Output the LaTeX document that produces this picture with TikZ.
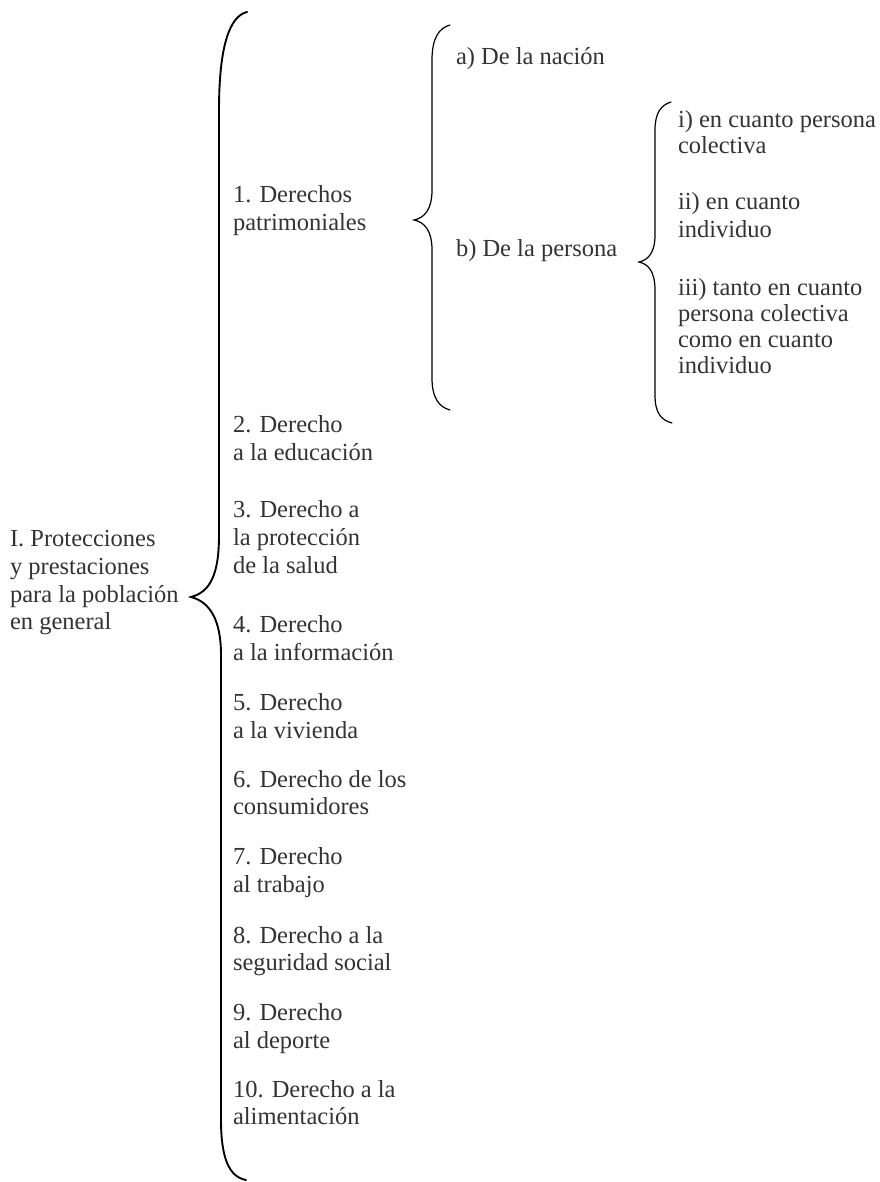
\documentclass[tikz,border=0pt]{standalone}
\usepackage{fontspec}
\setmainfont{Liberation Serif}
\definecolor{txtgray}{HTML}{333333}
\tikzset{
  lbl/.style={anchor=base west, inner sep=0pt, outer sep=0pt, text=txtgray, font=\fontsize{24.5}{27.8}\selectfont},
  bigbrace/.style={line width=1.9pt, line cap=round, black},
  smallbrace/.style={line width=1.2pt, line cap=round, black}
}
\begin{document}
\begin{tikzpicture}[x=1pt,y=-1pt]
\useasboundingbox (0,0) rectangle (879,1182);
% main brace
\coordinate (mt) at (247,12);
\coordinate (mtip) at (191,597);
\coordinate (mb) at (246,1180);
\draw[bigbrace] (mt) .. controls (230,16) and (219,45) .. (219,110)
  -- (219,535) .. controls (219,575) and (210,592) .. (mtip)
  .. controls (210,602) and (221,620) .. (221,655)
  -- (221,1120) .. controls (221,1160) and (230,1177) .. (mb);
% brace a/b
\coordinate (bt) at (450,25);
\coordinate (btip) at (414,220);
\coordinate (bb) at (450,410);
\draw[smallbrace] (bt) .. controls (439,28) and (432,38) .. (432,60)
  -- (432,190) .. controls (432,210) and (424,218) .. (btip)
  .. controls (424,222) and (432,230) .. (432,250)
  -- (432,378) .. controls (432,398) and (439,407) .. (bb);
% brace i/ii/iii
\coordinate (ct) at (671,102);
\coordinate (ctip) at (639,262);
\coordinate (cb) at (672,423);
\draw[smallbrace] (ct) .. controls (661,105) and (655,113) .. (655,130)
  -- (655,235) .. controls (655,253) and (648,260) .. (ctip)
  .. controls (648,264) and (655,271) .. (655,290)
  -- (655,395) .. controls (655,413) and (661,420) .. (cb);
% left text
\node[lbl] (r1) at (10,546) {I. Protecciones};
\node[lbl] (r2) at (10,574) {y prestaciones};
\node[lbl] (r3) at (10,602) {para la población};
\node[lbl] (r4) at (10,629.5) {en general};
% column 2
\node[lbl] (d1a) at (233,203) {1. Derechos};
\node[lbl] (d1b) at (233,231) {patrimoniales};
\node[lbl] (d2a) at (233,432) {2. Derecho};
\node[lbl] (d2b) at (233,460) {a la educación};
\node[lbl] (d3a) at (233,517) {3. Derecho a};
\node[lbl] (d3b) at (233,545.5) {la protección};
\node[lbl] (d3c) at (233,573) {de la salud};
\node[lbl] (d4a) at (233,632) {4. Derecho};
\node[lbl] (d4b) at (233,660) {a la información};
\node[lbl] (d5a) at (233,710) {5. Derecho};
\node[lbl] (d5b) at (233,738) {a la vivienda};
\node[lbl] (d6a) at (233,787) {6. Derecho de los};
\node[lbl] (d6b) at (233,814) {consumidores};
\node[lbl] (d7a) at (233,864) {7. Derecho};
\node[lbl] (d7b) at (233,892) {al trabajo};
\node[lbl] (d8a) at (233,943) {8. Derecho a la};
\node[lbl] (d8b) at (233,970) {seguridad social};
\node[lbl] (d9a) at (233,1020) {9. Derecho};
\node[lbl] (d9b) at (233,1048) {al deporte};
\node[lbl] (d10a) at (233,1097) {10. Derecho a la};
\node[lbl] (d10b) at (233,1124) {alimentación};
% column 3
\node[lbl] (na) at (456,65) {a) De la nación};
\node[lbl] (pb) at (456,256) {b) De la persona};
% column 4
\node[lbl] (i1) at (678,128) {i) en cuanto persona};
\node[lbl] (i2) at (678,154) {colectiva};
\node[lbl] (ii1) at (678,210) {ii) en cuanto};
\node[lbl] (ii2) at (678,237) {individuo};
\node[lbl] (iii1) at (678,295) {iii) tanto en cuanto};
\node[lbl] (iii2) at (678,321) {persona colectiva};
\node[lbl] (iii3) at (678,347) {como en cuanto};
\node[lbl] (iii4) at (678,373) {individuo};
\end{tikzpicture}
\end{document}
